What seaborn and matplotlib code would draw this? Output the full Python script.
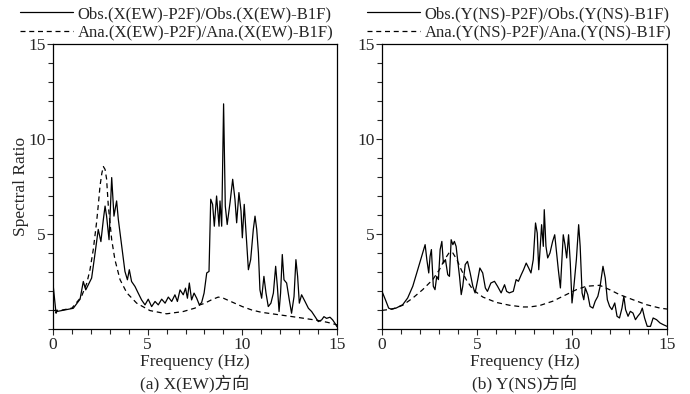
import numpy as np
import pandas as pd
import matplotlib
matplotlib.use("Agg")
import matplotlib.pyplot as plt
import seaborn as sns

# ---------------- data ----------------
obs_x_freq = [0.0, 0.16, 0.2, 1.07, 1.43, 1.6, 1.73, 2.04, 2.2, 2.39, 2.53, 2.66, 2.75, 2.83, 2.96,
              3.1, 3.22, 3.36, 3.45, 3.63, 3.8, 3.93, 4.03, 4.15, 4.33, 4.5, 4.68, 4.86, 5.03, 5.21,
              5.39, 5.56, 5.74, 5.92, 6.09, 6.27, 6.44, 6.57, 6.71, 6.88, 7.0, 7.1, 7.2, 7.32, 7.45,
              7.59, 7.73, 7.85, 7.98, 8.12, 8.24, 8.33, 8.43, 8.52, 8.64, 8.77, 8.82, 8.91, 9.01, 9.1,
              9.2, 9.35, 9.49, 9.61, 9.7, 9.82, 9.93, 10.0, 10.1, 10.23, 10.32, 10.44, 10.58, 10.67,
              10.76, 10.85, 10.93, 11.02, 11.14, 11.25, 11.37, 11.51, 11.64, 11.76, 11.85, 11.94,
              12.02, 12.11, 12.2, 12.34, 12.48, 12.6, 12.73, 12.83, 12.92, 13.01, 13.13, 13.31,
              13.49, 13.66, 13.84, 14.01, 14.19, 14.31, 14.45, 14.63, 14.77, 14.89, 15.0]
obs_x_ratio = [2.38, 0.83, 0.92, 1.09, 1.57, 2.5, 2.06, 2.68, 3.83, 5.24, 4.6, 5.77, 6.47, 5.94, 4.7,
               7.97, 5.94, 6.74, 5.77, 4.36, 3.03, 2.59, 3.12, 2.5, 2.24, 1.89, 1.53, 1.27, 1.57, 1.18,
               1.45, 1.27, 1.57, 1.36, 1.68, 1.45, 1.8, 1.45, 2.06, 1.8, 2.15, 1.62, 2.42, 1.53, 1.89,
               1.62, 1.27, 1.39, 1.89, 2.95, 3.03, 6.83, 6.56, 5.41, 7.0, 5.41, 6.74, 5.41, 11.85, 6.47,
               5.5, 6.65, 7.88, 6.83, 5.59, 7.18, 6.21, 4.8, 6.56, 4.53, 3.12, 3.65, 5.24, 5.94,
               5.24, 4.0, 2.06, 1.62, 2.77, 1.89, 1.18, 1.36, 1.89, 3.3, 2.24, 0.92,
               1.89, 3.92, 2.59, 2.42, 1.53, 0.83, 1.71, 3.65, 2.77, 1.36, 1.8, 1.45,
               1.09, 0.92, 0.65, 0.39, 0.48, 0.65, 0.56, 0.62, 0.48, 0.3, 0.12]

ana_x_freq = [0.0, 0.5, 1.0, 1.5, 1.78, 1.95, 2.13, 2.3, 2.4, 2.48, 2.58, 2.66, 2.75, 2.83, 2.92, 3.1,
              3.27, 3.54, 3.9, 4.42, 5.12, 6.0, 6.88, 7.5, 7.76, 8.0, 8.4, 8.73, 9.0, 9.5, 10.0,
              10.5, 11.0, 12.0, 13.0, 14.0, 14.5, 15.0]
ana_x_ratio = [0.97, 1.0, 1.1, 1.7, 2.4, 3.1, 4.2, 5.6, 6.6, 7.5, 8.2, 8.55, 8.4, 7.9, 6.5, 4.7,
               3.65, 2.6, 1.9, 1.36, 0.97, 0.8, 0.92, 1.1, 1.27, 1.35, 1.55, 1.68, 1.62, 1.4, 1.18,
               1.0, 0.88, 0.74, 0.6, 0.45, 0.35, 0.22]

obs_y_freq = [0.0, 0.18, 0.35, 0.47, 0.74, 1.09, 1.35, 1.62, 1.88, 2.14, 2.27, 2.36, 2.46, 2.53, 2.6,
              2.7, 2.79, 2.88, 2.97, 3.06, 3.15, 3.23, 3.34, 3.46, 3.55, 3.64, 3.73, 3.81, 3.9, 3.99,
              4.08, 4.17, 4.25, 4.38, 4.5, 4.64, 4.78, 4.9, 5.04, 5.15, 5.3, 5.44, 5.55, 5.73, 5.92,
              6.08, 6.27, 6.45, 6.56, 6.7, 6.91, 7.06, 7.18, 7.33, 7.45, 7.59, 7.72, 7.84, 7.96, 8.08,
              8.17, 8.25, 8.33, 8.4, 8.49, 8.54, 8.63, 8.72, 8.84, 8.98, 9.09, 9.19, 9.28, 9.39, 9.46,
              9.54, 9.63, 9.72, 9.82, 9.91, 10.0, 10.1, 10.23, 10.35, 10.43, 10.53, 10.62, 10.7, 10.83,
              10.95, 11.1, 11.22, 11.36, 11.48, 11.63, 11.75, 11.86, 11.98, 12.1, 12.25, 12.37, 12.5,
              12.63, 12.73, 12.82, 12.95, 13.07, 13.21, 13.34, 13.46, 13.6, 13.7, 13.82, 13.96, 14.13,
              14.27, 14.45, 14.63, 14.8, 15.0]
obs_y_ratio = [1.98, 1.54, 1.1, 1.05, 1.1, 1.28, 1.63, 2.25, 3.12, 4.0, 4.44, 3.65, 2.95, 3.82, 4.18,
               2.25, 2.07, 2.77, 2.6, 4.18, 4.61, 3.47, 3.65, 2.86, 2.77, 4.7, 4.44, 4.61, 4.35, 3.56,
               2.77, 1.81, 2.25, 3.39, 3.56, 2.95, 2.25, 1.9, 2.6, 3.21, 2.95, 2.16, 1.98, 2.42, 2.51,
               2.25, 1.9, 2.33, 1.98, 1.9, 1.98, 2.6, 2.51, 2.86, 3.12, 3.47, 3.21, 2.95, 3.65, 5.58,
               5.05, 3.12, 4.35, 5.49, 4.35, 6.28, 4.35, 3.74, 4.0, 4.61, 4.96, 4.0, 3.12, 2.16, 3.47,
               4.96, 4.44, 3.74, 4.96, 3.47, 1.37, 2.25, 3.65, 5.49, 4.35, 1.9, 1.54, 2.16, 1.81,
               1.19, 1.1, 1.46, 1.72, 2.25, 3.3, 2.68, 1.54, 1.19, 1.02, 1.37, 0.67, 0.58,
               1.1, 1.72, 1.02, 0.67, 0.93, 0.84, 0.49, 0.67, 0.84, 1.1, 0.58, 0.14, 0.14,
               0.58, 0.49, 0.32, 0.23, 0.14]

ana_y_freq = [0.0, 0.56, 1.09, 1.62, 2.14, 2.67, 3.02, 3.29, 3.55, 3.73, 3.94, 4.17, 4.43, 4.78, 5.31,
              6.01, 6.71, 7.42, 7.77, 8.28, 8.98, 9.7, 10.23, 10.76, 11.46, 11.98, 12.5, 13.21,
              13.92, 14.63, 15.0]
ana_y_ratio = [0.98, 1.05, 1.25, 1.63, 2.07, 2.6, 3.12, 3.65, 4.04, 4.0, 3.65, 3.12, 2.6, 2.07, 1.68,
               1.4, 1.25, 1.16, 1.16, 1.23, 1.46, 1.81, 2.07, 2.25, 2.3, 2.07, 1.81, 1.54,
               1.28, 1.1, 1.05]

legend_x = ["Obs.(X(EW)-P2F)/Obs.(X(EW)-B1F)", "Ana.(X(EW)-P2F)/Ana.(X(EW)-B1F)"]
legend_y = ["Obs.(Y(NS)-P2F)/Obs.(Y(NS)-B1F)", "Ana.(Y(NS)-P2F)/Ana.(Y(NS)-B1F)"]
subtitles = ["(a) X(EW)方向", "(b) Y(NS)方向"]
xticks = [0, 5, 10, 15]
yticks = [5, 10, 15]
ytick_labels = ["5", "10", "15"]

# ---------------- style ----------------
sns.set_style("ticks")
plt.rcParams["font.family"] = ["Liberation Serif", "Noto Sans CJK SC", "DejaVu Sans"]
plt.rcParams["axes.linewidth"] = 0.9
plt.rcParams["xtick.direction"] = "out"
plt.rcParams["ytick.direction"] = "out"

fig = plt.figure(figsize=(6.9, 3.94), dpi=100)
W, H = 690, 394
axes = [fig.add_axes([53 / W, 1 - 329 / H, 284 / W, 285 / H]),
        fig.add_axes([382 / W, 1 - 329 / H, 285 / W, 285 / H])]

panels = [
    (obs_x_freq, obs_x_ratio, ana_x_freq, ana_x_ratio, legend_x, 20),
    (obs_y_freq, obs_y_ratio, ana_y_freq, ana_y_ratio, legend_y, 367),
]

fs = 12.5
for i, (ax, (of, orr, af, ar, labels, lx)) in enumerate(zip(axes, panels)):
    df_o = pd.DataFrame({"f": of, "r": orr})
    df_a = pd.DataFrame({"f": af, "r": ar})
    sns.lineplot(data=df_o, x="f", y="r", ax=ax, color="black", lw=0.9, sort=False)
    sns.lineplot(data=df_a, x="f", y="r", ax=ax, color="black", lw=0.9, sort=False,
                 linestyle=(0, (4, 3)))
    ax.set_xlim(0, 15)
    ax.set_ylim(0, 15)
    ax.set_xticks(xticks)
    ax.set_xticklabels([str(t) for t in xticks], fontsize=fs)
    ax.set_yticks(yticks)
    ax.set_yticklabels(ytick_labels, fontsize=fs)
    ax.set_xticks(np.arange(0, 16, 1), minor=True)
    ax.set_yticks(np.arange(0, 16, 1), minor=True)
    ax.tick_params(which="major", length=4, width=0.8, pad=1.5)
    ax.tick_params(which="minor", length=3.5, width=0.8)
    for s in ax.spines.values():
        s.set_color("black")
    ax.set_xlabel("Frequency (Hz)", fontsize=fs)
    ax.xaxis.set_label_coords(0.5, -0.087)
    ax.set_ylabel("Spectral Ratio" if i == 0 else "", fontsize=fs)
    ax.yaxis.set_label_coords(-0.085, 0.5)
    ax.text(0.5, -0.19, subtitles[i], transform=ax.transAxes, ha="center", va="center",
            fontsize=fs)
    handles = ax.get_lines()[:2]
    fig.legend(handles, labels, loc="upper left", bbox_to_anchor=(lx / W, 1 - 6 / H),
               frameon=False, fontsize=12, handlelength=3.15, handletextpad=0.3,
               labelspacing=0.2, borderpad=0, borderaxespad=0)

fig.savefig("out.png", dpi=100)
